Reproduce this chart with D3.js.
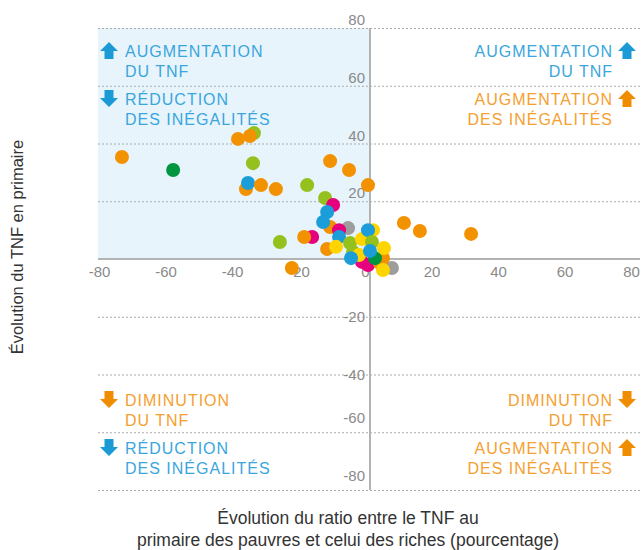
<!DOCTYPE html>
<html>
<head>
<meta charset="utf-8">
<script src="https://cdn.jsdelivr.net/npm/d3@7"></script>
<style>
  body { margin: 0; background: #fff; }
  text { font-family: "Liberation Sans", Arial, sans-serif; }
</style>
</head>
<body>
<div class="visContainer"></div>
<script>
// points, drawn back to front
const ptX = [-34.9, -39.7, -36.1, -74.6, -59.2, -35.2, -37.3, -36.7, -32.8, -28.3, -18.9, -12.0, -6.3, -0.6,
             -27.1, -23.5, -13.5, -11.1, -12.9, -12.0, -14.1, -17.4, -19.8, -6.6, -9.3, -9.3, -12.9, -6.0,
             -10.2, -5.1, -2.4, 0.9, -0.6, 0.6, -2.4, -0.6, -3.3, -5.7, 6.6, 3.0, 3.9, 1.5, 0.0, 4.2, 3.9,
             10.2, 15.0, 30.4];
const ptY = [43.6, 41.6, 42.6, 35.3, 30.8, 33.2, 24.2, 26.3, 25.6, 24.2, 25.6, 33.9, 30.8, 25.6,
             5.9, -3.1, 21.1, 18.7, 16.3, 11.1, 12.8, 7.6, 7.6, 10.7, 10.0, 7.6, 3.5, 5.5,
             4.2, 2.4, 6.9, 10.0, 10.0, 5.9, -1.0, -2.1, 1.4, 0.3, -3.1, -1.4, 0.3, 0.3, 2.8, 3.8, -3.8,
             12.5, 9.7, 8.7];
const ptGroup = ['G', 'O', 'O', 'O', 'D', 'G', 'O', 'B', 'O', 'O', 'G', 'O', 'O', 'O',
                 'G', 'O', 'G', 'M', 'B', 'O', 'B', 'M', 'O', 'Gy', 'M', 'B', 'O', 'G',
                 'Y', 'G', 'Y', 'Y', 'B', 'G', 'M', 'M', 'Y', 'B', 'Gy', 'O', 'O', 'D', 'B', 'Y', 'Y',
                 'O', 'O', 'O'];
const groupColor = {O: '#f39200', B: '#1b9dd9', G: '#95c11f', D: '#009640', M: '#e6007e', Gy: '#9d9d9c', Y: '#ffd500'};

const xTicks = [-80, -60, -40, -20, 0, 20, 40, 60, 80];
const yTicks = [80, 60, 40, 20, -20, -40, -60, -80];

const xTitle = ['Évolution du ratio entre le TNF au', 'primaire des pauvres et celui des riches (pourcentage)'];
const yTitle = 'Évolution du TNF en primaire';

// quadrant notes
const notes = [
  {side: 'left', top: 57, arrow: 'up', col: 'blue', lines: ['AUGMENTATION', 'DU TNF']},
  {side: 'left', top: 105, arrow: 'down', col: 'blue', lines: ['RÉDUCTION', 'DES INÉGALITÉS']},
  {side: 'right', top: 57, arrow: 'up', col: 'blue', lines: ['AUGMENTATION', 'DU TNF']},
  {side: 'right', top: 105, arrow: 'up', col: 'orange', lines: ['AUGMENTATION', 'DES INÉGALITÉS']},
  {side: 'left', top: 406, arrow: 'down', col: 'orange', lines: ['DIMINUTION', 'DU TNF']},
  {side: 'left', top: 454, arrow: 'down', col: 'blue', lines: ['RÉDUCTION', 'DES INÉGALITÉS']},
  {side: 'right', top: 406, arrow: 'down', col: 'orange', lines: ['DIMINUTION', 'DU TNF']},
  {side: 'right', top: 454, arrow: 'up', col: 'orange', lines: ['AUGMENTATION', 'DES INÉGALITÉS']}
];
const textCol = {blue: '#3aa6dd', orange: '#f5a030'};
const arrowCol = {blue: '#1b9ad6', orange: '#f08c00'};

const width = 642, height = 550;
const left = 98, right = 642;

const xScale = d3.scaleLinear().domain([-80, 80]).range([104, 636]);
const yScale = d3.scaleLinear().domain([-80, 80]).range([490, 28]);

const svg = d3.select('.visContainer')
              .append('svg')
              .attr('width', width)
              .attr('height', height);

// shaded quadrant
svg.append('rect')
   .attr('x', left)
   .attr('y', yScale(80))
   .attr('width', xScale(0) - left)
   .attr('height', yScale(0) - yScale(80))
   .attr('fill', '#e7f4fc');

// grid
svg.selectAll('.grid')
   .data(yTicks)
   .enter()
   .append('line')
   .attr('class', 'grid')
   .attr('x1', left)
   .attr('x2', right)
   .attr('y1', d => yScale(d) + 0.5)
   .attr('y2', d => yScale(d) + 0.5)
   .attr('stroke', '#aaa')
   .attr('stroke-dasharray', '2,2');

// y labels
svg.selectAll('.ylab')
   .data(yTicks)
   .enter()
   .append('text')
   .attr('class', 'ylab')
   .attr('x', xScale(0) - 5)
   .attr('y', d => yScale(d) + (d > 0 ? -3 : (d > -50 ? 5 : -9)))
   .attr('text-anchor', 'end')
   .attr('font-size', 15)
   .attr('fill', '#8a8a8a')
   .text(d => d);

// x labels
const xAxis = d3.axisBottom(xScale).tickValues(xTicks).tickSize(0).tickPadding(0).tickFormat(d => String(d));
const gx = svg.append('g')
   .attr('transform', 'translate(0,' + (yScale(0) + 4) + ')')
   .call(xAxis);
gx.select('.domain').remove();
gx.selectAll('text')
  .attr('dx', -5)
  .attr('dy', 14)
  .attr('font-size', 15)
  .attr('fill', '#8a8a8a')
  .style('font-family', '"Liberation Sans", Arial, sans-serif');

// axis lines
svg.append('line')
   .attr('x1', left).attr('x2', 640)
   .attr('y1', yScale(0)).attr('y2', yScale(0))
   .attr('stroke', '#b3b3b3').attr('stroke-width', 2);
svg.append('line')
   .attr('x1', xScale(0)).attr('x2', xScale(0))
   .attr('y1', yScale(80)).attr('y2', yScale(-80))
   .attr('stroke', '#b3b3b3').attr('stroke-width', 2);

// points
svg.selectAll('circle')
   .data(ptX)
   .enter()
   .append('circle')
   .attr('cx', (d) => xScale(d))
   .attr('cy', (d, i) => yScale(ptY[i]))
   .attr('r', 7)
   .attr('fill', (d, i) => groupColor[ptGroup[i]]);

// notes
function arrowPath(cx, top, dir) {
    // 18 wide, 17 tall block arrow
    if (dir === 'up') {
        return 'M' + (cx - 9) + ',' + (top + 9) + 'L' + cx + ',' + top + 'L' + (cx + 9) + ',' + (top + 9)
             + 'L' + (cx + 4.5) + ',' + (top + 9) + 'L' + (cx + 4.5) + ',' + (top + 17)
             + 'L' + (cx - 4.5) + ',' + (top + 17) + 'L' + (cx - 4.5) + ',' + (top + 9) + 'Z';
    }
    return 'M' + (cx - 4.5) + ',' + top + 'L' + (cx + 4.5) + ',' + top + 'L' + (cx + 4.5) + ',' + (top + 8)
         + 'L' + (cx + 9) + ',' + (top + 8) + 'L' + cx + ',' + (top + 17) + 'L' + (cx - 9) + ',' + (top + 8)
         + 'L' + (cx - 4.5) + ',' + (top + 8) + 'Z';
}

notes.forEach((n) => {
    const isLeft = n.side === 'left';
    const tx = isLeft ? 125 : 613;
    n.lines.forEach((ln, k) => {
        svg.append('text')
           .attr('x', tx)
           .attr('y', n.top + k * 20)
           .attr('text-anchor', isLeft ? 'start' : 'end')
           .attr('font-size', 16)
           .attr('letter-spacing', 1)
           .attr('fill', textCol[n.col])
           .text(ln);
    });
    const ax = isLeft ? 109 : 627;
    svg.append('path')
       .attr('d', arrowPath(ax, n.top - 15, n.arrow))
       .attr('fill', arrowCol[n.col]);
});

// titles
svg.selectAll('.xtitle')
   .data(xTitle)
   .enter()
   .append('text')
   .attr('class', 'xtitle')
   .attr('x', 348)
   .attr('y', (d, i) => 524 + i * 22)
   .attr('text-anchor', 'middle')
   .attr('font-size', 17.5)
   .attr('fill', '#333')
   .text(d => d);

svg.append('text')
   .attr('transform', 'translate(23,247) rotate(-90)')
   .attr('text-anchor', 'middle')
   .attr('font-size', 16.5)
   .attr('fill', '#333')
   .text(yTitle);
</script>
</body>
</html>
